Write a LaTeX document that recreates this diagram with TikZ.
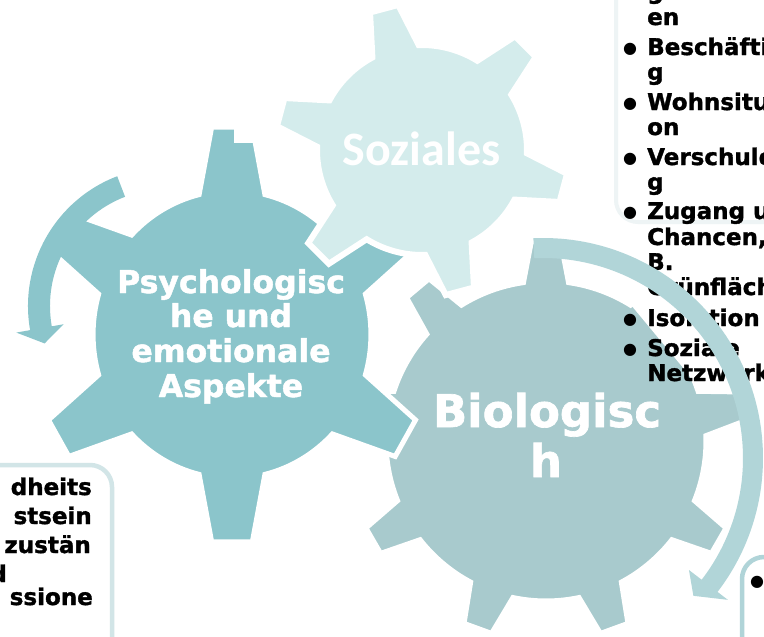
\documentclass[tikz,border=0pt]{standalone}
\usepackage{fontspec}
\setmainfont{DejaVu Sans}[BoldFeatures={FakeBold=1.5}]
\newfontfamily\sozfont{Carlito}
\definecolor{psy}{HTML}{8BC5CB}
\definecolor{soz}{HTML}{D4ECEC}
\definecolor{bio}{HTML}{A8CACD}
\definecolor{bioarrow}{HTML}{B1D5D8}
\definecolor{boxbl}{HTML}{D2E5E7}
\definecolor{boxbr}{HTML}{B0D4D8}
\definecolor{boxtr}{HTML}{EEF4F5}
\newcommand{\gearpath}[6]{({#2-#5}:#3) \foreach \gi [evaluate=\gi as \gt using #2+(\gi-1)*360/#1] in {1,...,#1} { -- ({\gt-#6}:#4) -- ({\gt+#6}:#4) -- ({\gt+#5}:#3) arc[start angle={\gt+#5}, end angle={\gt+360/#1-#5}, radius=#3] } -- cycle}
\tikzset{
  gearline/.style={draw=white, line width=5pt, line join=miter},
  gtext/.style={text=white, inner sep=0pt, anchor=base},
  btext/.style={text=black, inner sep=0pt, anchor=base west, font=\bfseries\fontsize{23}{25}\selectfont},
  bulletdot/.style={text=black, inner sep=0pt, font=\fontsize{16}{16}\selectfont},
  boxframe/.style={fill=white, rounded corners=22pt, line width=4.5pt},
}
\begin{document}
\begin{tikzpicture}[x=1pt,y=-1pt]
\clip (0,0) rectangle (764,637);
\fill[white] (0,0) rectangle (764,637);
% gears
\begin{scope}[shift={(546,441)}, yscale=-1]
  \filldraw[fill=bio, gearline] \gearpath{9}{90}{160}{200}{8.1}{4.2};
\end{scope}
\begin{scope}[shift={(232,334.5)}, yscale=-1, xscale=0.965]
  \filldraw[fill=psy, gearline] \gearpath{6}{90}{144}{208.5}{13.7}{5.8};
\end{scope}
\begin{scope}[shift={(422,150)}, yscale=-1]
  \filldraw[fill=soz, gearline, line width=6pt] \gearpath{6}{105}{105}{147}{13.2}{5.7};
\end{scope}
\fill[white] (234,100) rectangle (262,143);
% top right text box
\draw[boxframe, draw=boxtr, line width=4pt] (616,-40) rectangle (830,222);
\fill[white] (620,232) -- (620,293) -- (631,305) -- (704,393) -- (764,393) -- (764,232) -- cycle;
% gear labels
\node[gtext, font=\bfseries\fontsize{31.5}{35}\selectfont] (psy1) at (231,293) {Psychologisc};
\node[gtext, font=\bfseries\fontsize{31.5}{35}\selectfont] (psy2) at (231,327) {he und};
\node[gtext, font=\bfseries\fontsize{31.5}{35}\selectfont] (psy3) at (231,362) {emotionale};
\node[gtext, font=\bfseries\fontsize{31.5}{35}\selectfont] (psy4) at (231,397) {Aspekte};
\node[gtext, font=\bfseries\fontsize{45}{50}\selectfont] (bio1) at (547,427) {Biologisc};
\node[gtext, font=\bfseries\fontsize{45}{50}\selectfont] (bio2) at (546,477) {h};
\node[gtext, font=\sozfont\bfseries\fontsize{48}{50}\selectfont] (soz1) at (421.5,165) {Soziales};
% top right bullet text
\node[btext] (t0) at (647,-1) {g};
\node[btext] (t1) at (647,25) {en};
\node[bulletdot] (b2) at (630,49) {●};
\node[btext] (t2) at (647,55) {Beschäfti};
\node[btext] (t3) at (647,80) {g};
\node[bulletdot] (b4) at (630,104) {●};
\node[btext] (t4) at (647,110) {Wohnsitua};
\node[btext] (t5) at (647,135) {on};
\node[bulletdot] (b6) at (630,159) {●};
\node[btext] (t6) at (647,165) {Verschuld};
\node[btext] (t7) at (647,190) {g};
\node[bulletdot] (b8) at (630,213) {●};
\node[btext] (t8) at (647,219) {Zugang un};
\node[btext] (t9) at (647,245) {Chancen,};
\node[btext] (t10) at (647,270) {B.};
\node[btext] (t11) at (647,295) {Grünfläche};
\node[bulletdot] (b12) at (630,320) {●};
\node[btext] (t12) at (647,326) {Isolation};
\node[bulletdot] (b13) at (630,350) {●};
\node[btext] (t13) at (647,356) {Soziale};
\node[btext] (t14) at (647,381) {Netzwerk};
% bottom left box
\draw[boxframe, draw=boxbl] (-100,465) rectangle (112,720);
\node[btext, anchor=base east] (l1) at (92,495) {dheits};
\node[btext, anchor=base east] (l2) at (92,524) {stsein};
\node[btext, anchor=base east] (l3) at (91,553) {zustän};
\node[btext, anchor=base east] (l4) at (7,582) {d};
\node[btext, anchor=base east] (l5) at (93,605) {ssione};
% bottom right box
\draw[boxframe, draw=boxbr] (742,557) rectangle (900,720);
\node[bulletdot] (rb) at (757,582) {●};
% arrows
\begin{scope}[shift={(167,306)}, yscale=-1]
  \fill[psy] (111:139) arc[start angle=111, end angle=190, radius=139] -- (190:153) -- (197:128) -- (190:105) -- (190:117) arc[start angle=190, end angle=111, radius=117] -- cycle;
\end{scope}
\begin{scope}[shift={(543,458)}, yscale=-1]
  \fill[bioarrow] (92.5:220) arc[start angle=92.5, end angle=-37.5, radius=220] -- (-37.5:233) -- (-42.5:204) -- (-37.5:184) -- (-37.5:200) arc[start angle=-37.5, end angle=92.5, radius=200] -- cycle;
\end{scope}
\end{tikzpicture}
\end{document}
